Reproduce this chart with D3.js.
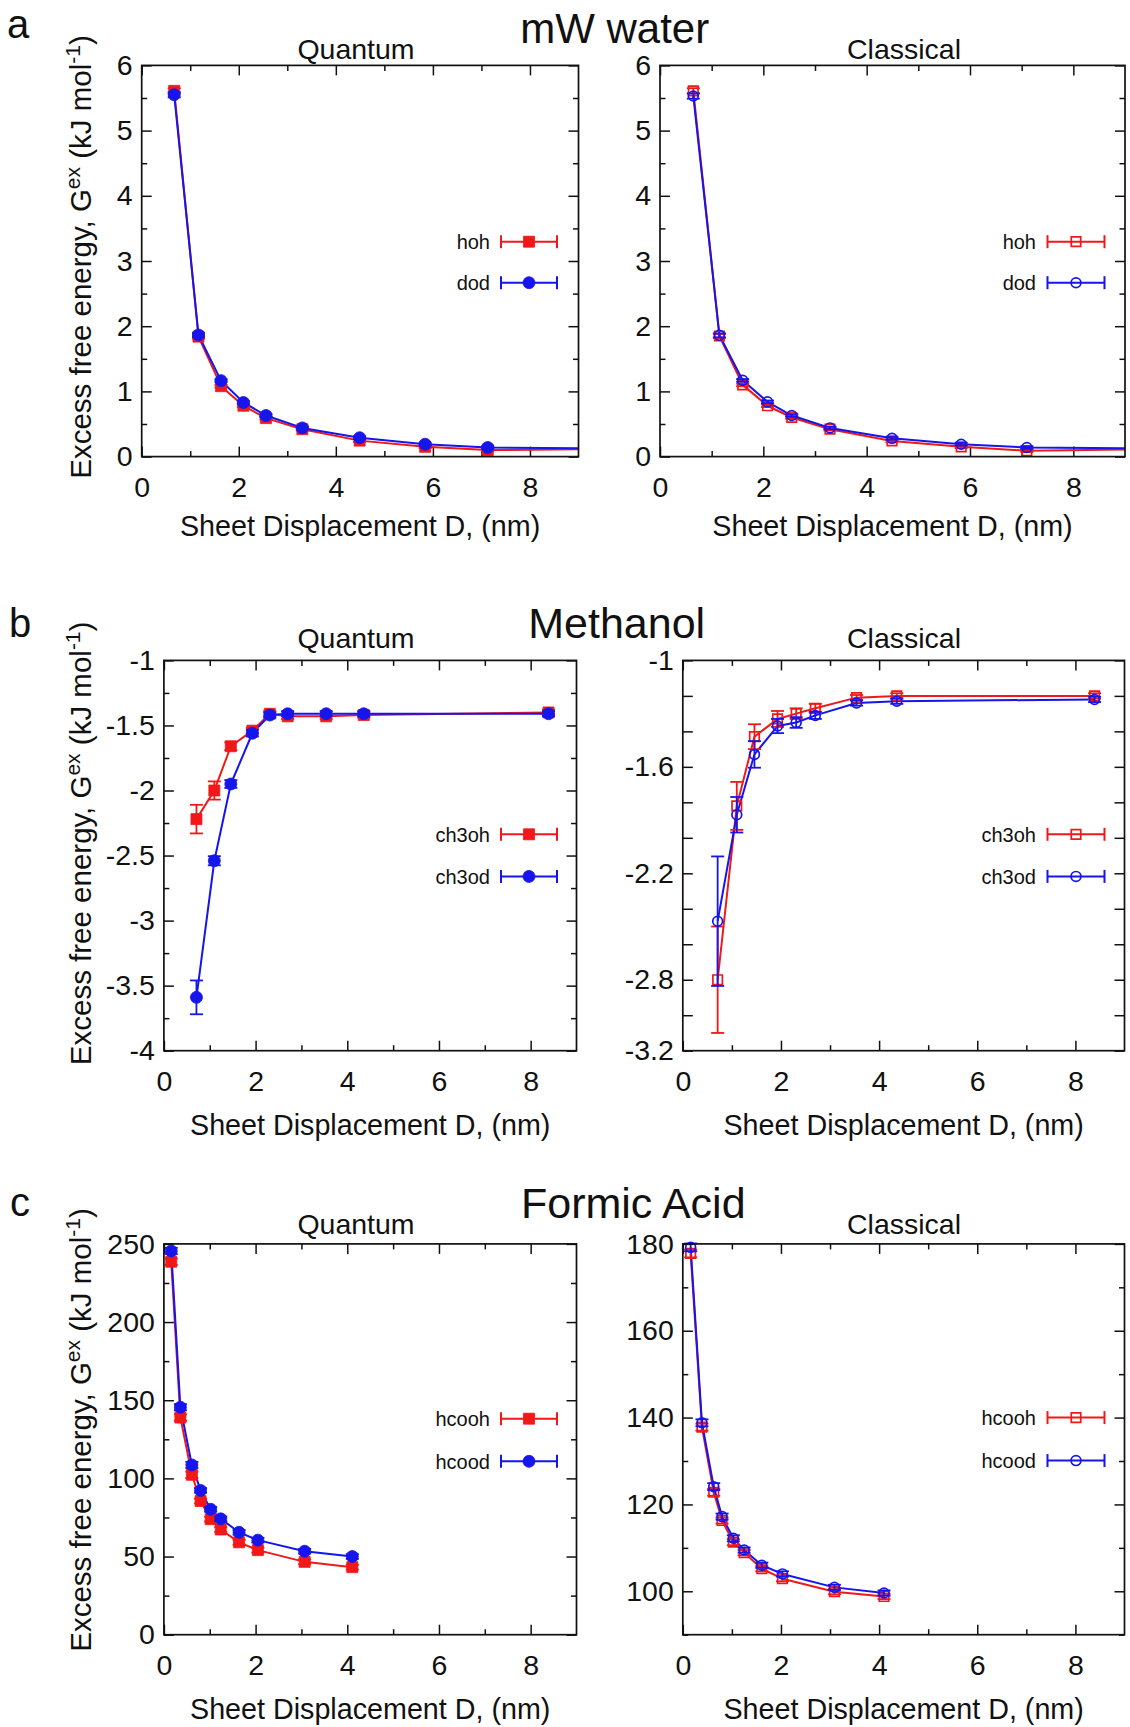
<!DOCTYPE html>
<html>
<head>
<meta charset="utf-8">
<script src="https://cdn.jsdelivr.net/npm/d3@7"></script>
<style>
  html, body { margin: 0; padding: 0; background: #fff; }
  svg { display: block; }
  text { font-family: "Liberation Sans", Arial, sans-serif; fill: #111; }
</style>
</head>
<body>
<script>
// ---------------- DATA ----------------
// Tick labels
const xTicks = [0, 2, 4, 6, 8];
const xMinorTicks = [1, 3, 5, 7];
const yTicksA = [0, 1, 2, 3, 4, 5, 6];
const yMinorA = [0.5, 1.5, 2.5, 3.5, 4.5, 5.5];
const yTicksBQ = [-4, -3.5, -3, -2.5, -2, -1.5, -1];
const yMinorBQ = [-3.75, -3.25, -2.75, -2.25, -1.75, -1.25];
const yTicksBC = [-3.2, -2.8, -2.2, -1.6, -1];
const yMinorBC = [-3.0, -2.6, -2.4, -2.0, -1.8, -1.4, -1.2];
const yTicksCQ = [0, 50, 100, 150, 200, 250];
const yMinorCQ = [25, 75, 125, 175, 225];
const yTicksCC = [100, 120, 140, 160, 180];
const yMinorCC = [90, 110, 130, 150, 170];

// (a) mW water
const xAQ = [0.67, 1.17, 1.635, 2.095, 2.56, 3.31, 4.49, 5.84, 7.13, 9.6];
const hohQ = [5.61, 1.84, 1.08, 0.78, 0.59, 0.42, 0.245, 0.15, 0.10, 0.115];
const hohQErr = [0.04, 0.03, 0.02, 0.02, 0.02, 0.02, 0.02, 0.02, 0.02, 0.02];
const dodQ = [5.55, 1.865, 1.165, 0.83, 0.63, 0.44, 0.29, 0.19, 0.14, 0.125];
const dodQErr = [0.04, 0.03, 0.02, 0.02, 0.02, 0.02, 0.02, 0.02, 0.02, 0.02];

const xAC = [0.645, 1.15, 1.6, 2.08, 2.55, 3.29, 4.49, 5.83, 7.1, 9.6];
const hohC = [5.61, 1.85, 1.10, 0.78, 0.60, 0.42, 0.24, 0.15, 0.09, 0.115];
const hohCErr = [0.04, 0.03, 0.02, 0.02, 0.02, 0.02, 0.02, 0.02, 0.02, 0.02];
const dodC = [5.53, 1.86, 1.17, 0.84, 0.63, 0.44, 0.28, 0.19, 0.14, 0.125];
const dodCErr = [0.04, 0.03, 0.02, 0.02, 0.02, 0.02, 0.02, 0.02, 0.02, 0.02];

// (b) Methanol
const xB = [0.71, 1.1, 1.46, 1.93, 2.31, 2.7, 3.54, 4.36, 8.39];
const ch3ohQ = [-2.22, -2.00, -1.66, -1.54, -1.41, -1.43, -1.43, -1.42, -1.40];
const ch3ohQErr = [0.11, 0.07, 0.03, 0.02, 0.02, 0.02, 0.02, 0.02, 0.02];
const ch3odQ = [-3.59, -2.54, -1.95, -1.56, -1.42, -1.41, -1.41, -1.41, -1.41];
const ch3odQErr = [0.13, 0.035, 0.03, 0.025, 0.02, 0.02, 0.02, 0.02, 0.02];

const ch3ohC = [-2.80, -1.82, -1.43, -1.33, -1.30, -1.27, -1.21, -1.20, -1.20];
const ch3ohCErr = [0.30, 0.135, 0.07, 0.045, 0.03, 0.025, 0.015, 0.015, 0.015];
const ch3odC = [-2.47, -1.87, -1.53, -1.37, -1.35, -1.31, -1.24, -1.23, -1.22];
const ch3odCErr = [0.365, 0.10, 0.075, 0.04, 0.03, 0.02, 0.015, 0.015, 0.015];

// (c) Formic acid
const xCQ = [0.16, 0.36, 0.61, 0.80, 1.02, 1.24, 1.64, 2.05, 3.07, 4.11];
const hcoohQ = [238.6, 138.9, 102.3, 85.5, 73.9, 67.3, 59.1, 54.1, 46.6, 43.2];
const hcoohQErr = [2, 2, 2, 1.5, 1.5, 1.5, 1.5, 1.5, 1.5, 1.5];
const hcoodQ = [245.5, 145.5, 108.6, 92.3, 80.2, 74.1, 65.5, 60.5, 53.4, 50.0];
const hcoodQErr = [2, 2, 2, 1.5, 1.5, 1.5, 1.5, 1.5, 1.5, 1.5];

const xCC = [0.16, 0.39, 0.63, 0.80, 1.03, 1.25, 1.61, 2.03, 3.09, 4.10];
const hcoohC = [177.8, 137.8, 122.8, 116.3, 111.3, 108.9, 105.2, 102.9, 99.9, 98.8];
const hcoohCErr = [0.9, 0.8, 0.8, 0.7, 0.7, 0.6, 0.6, 0.6, 0.6, 0.6];
const hcoodC = [179.2, 138.8, 124.1, 117.2, 112.2, 109.5, 106.0, 104.0, 100.9, 99.6];
const hcoodCErr = [0.9, 0.8, 0.8, 0.7, 0.7, 0.6, 0.6, 0.6, 0.6, 0.6];

// ---------------- STYLE / LAYOUT ----------------
const RED = "#f01818";
const BLUE = "#1515ec";
const W = 1130, H = 1727;

const svg = d3.select("body").append("svg").attr("width", W).attr("height", H);
svg.append("rect").attr("width", W).attr("height", H).attr("fill", "#fff");

function zip(xs, ys, es) { return xs.map((x, i) => ({ x, y: ys[i], e: es[i] })); }

const panels = [
  { id: "aQ", left: 141.7, right: 578.5, top: 65.4, bottom: 456.6, yDomain: [0, 6],
    yTicks: yTicksA, yMinor: yMinorA, title: "Quantum", titleX: 356, titleY: 59,
    xTitleY: 536, yTitle: { x: 90.6, y: 257 }, open: false,
    legend: { tr: 490, x0: 501, x1: 557, rows: [241.7, 282.7] },
    series: [ { name: "hoh", color: RED, shape: "square", data: zip(xAQ, hohQ, hohQErr) },
              { name: "dod", color: BLUE, shape: "circle", data: zip(xAQ, dodQ, dodQErr) } ] },
  { id: "aC", left: 660, right: 1125, top: 65.4, bottom: 456.6, yDomain: [0, 6],
    yTicks: yTicksA, yMinor: yMinorA, title: "Classical", titleX: 904, titleY: 59,
    xTitleY: 536, yTitle: null, open: true,
    legend: { tr: 1036, x0: 1047.5, x1: 1104.5, rows: [241.7, 282.7] },
    series: [ { name: "hoh", color: RED, shape: "square", data: zip(xAC, hohC, hohCErr) },
              { name: "dod", color: BLUE, shape: "circle", data: zip(xAC, dodC, dodCErr) } ] },
  { id: "bQ", left: 163.9, right: 576.5, top: 660.4, bottom: 1050.7, yDomain: [-4, -1],
    yTicks: yTicksBQ, yMinor: yMinorBQ, title: "Quantum", titleX: 356, titleY: 648,
    xTitleY: 1135, yTitle: { x: 90.6, y: 843.4 }, open: false,
    legend: { tr: 490, x0: 501, x1: 557, rows: [834.3, 876.4] },
    series: [ { name: "ch3oh", color: RED, shape: "square", data: zip(xB, ch3ohQ, ch3ohQErr) },
              { name: "ch3od", color: BLUE, shape: "circle", data: zip(xB, ch3odQ, ch3odQErr) } ] },
  { id: "bC", left: 682.8, right: 1124.5, top: 660.4, bottom: 1050.7, yDomain: [-3.2, -1],
    yTicks: yTicksBC, yMinor: yMinorBC, minorLen: 10, title: "Classical", titleX: 904, titleY: 648,
    xTitleY: 1135, yTitle: null, open: true,
    legend: { tr: 1036, x0: 1047.5, x1: 1104.5, rows: [834.3, 876.4] },
    series: [ { name: "ch3oh", color: RED, shape: "square", data: zip(xB, ch3ohC, ch3ohCErr) },
              { name: "ch3od", color: BLUE, shape: "circle", data: zip(xB, ch3odC, ch3odCErr) } ] },
  { id: "cQ", left: 163.9, right: 576.5, top: 1243.9, bottom: 1634.7, yDomain: [0, 250],
    yTicks: yTicksCQ, yMinor: yMinorCQ, title: "Quantum", titleX: 356, titleY: 1234,
    xTitleY: 1718.5, yTitle: { x: 90.6, y: 1430 }, open: false,
    legend: { tr: 490, x0: 501, x1: 557, rows: [1418.7, 1461.3] },
    series: [ { name: "hcooh", color: RED, shape: "square", data: zip(xCQ, hcoohQ, hcoohQErr) },
              { name: "hcood", color: BLUE, shape: "circle", data: zip(xCQ, hcoodQ, hcoodQErr) } ] },
  { id: "cC", left: 682.8, right: 1124.5, top: 1243.9, bottom: 1634.7, yDomain: [90, 180],
    yTicks: yTicksCC, yMinor: yMinorCC, title: "Classical", titleX: 904, titleY: 1234,
    xTitleY: 1718.5, yTitle: null, open: true,
    legend: { tr: 1036, x0: 1047.5, x1: 1104.5, rows: [1417.6, 1460.6] },
    series: [ { name: "hcooh", color: RED, shape: "square", data: zip(xCC, hcoohC, hcoohCErr) },
              { name: "hcood", color: BLUE, shape: "circle", data: zip(xCC, hcoodC, hcoodCErr) } ] }
];

const TICK_FONT = 28.5;
const MAJ = 10, MIN = 5.5;

function marker(sel, shape, open, color, cx, cy) {
  const size = open ? (shape === "square" ? 90 : Math.PI * 4.9 * 4.9)
                    : (shape === "square" ? 121 : Math.PI * 6 * 6);
  const sym = d3.symbol().type(shape === "square" ? d3.symbolSquare : d3.symbolCircle).size(size);
  sel.append("path")
    .attr("d", sym())
    .attr("transform", `translate(${cx},${cy})`)
    .attr("fill", open ? "none" : color)
    .attr("stroke", color)
    .attr("stroke-width", open ? 1.7 : 0.8);
}

function drawPanel(p) {
  const x = d3.scaleLinear().domain([0, 9]).range([p.left, p.right]);
  const y = d3.scaleLinear().domain(p.yDomain).range([p.bottom, p.top]);
  const g = svg.append("g").attr("class", "panel-" + p.id);

  svg.append("clipPath").attr("id", "clip-" + p.id)
    .append("rect").attr("x", p.left).attr("y", p.top)
    .attr("width", p.right - p.left).attr("height", p.bottom - p.top);

  const styleAxis = (ax) => {
    ax.select(".domain").remove();
    ax.selectAll(".tick line").attr("stroke", "#111").attr("stroke-width", 1.5);
    ax.selectAll(".tick text").attr("font-size", TICK_FONT).attr("fill", "#111")
      .attr("font-family", "Liberation Sans, Arial, sans-serif");
  };

  const bAx = g.append("g").attr("transform", `translate(0,${p.bottom})`)
    .call(d3.axisBottom(x).tickValues(xTicks).tickSizeInner(-MAJ).tickSizeOuter(0)
      .tickPadding(20.5).tickFormat(d3.format("d")));
  styleAxis(bAx);
  const bMin = g.append("g").attr("transform", `translate(0,${p.bottom})`)
    .call(d3.axisBottom(x).tickValues(xMinorTicks).tickSizeInner(-MIN).tickSizeOuter(0).tickFormat(""));
  styleAxis(bMin);
  const tAx = g.append("g").attr("transform", `translate(0,${p.top})`)
    .call(d3.axisTop(x).tickValues(xTicks).tickSizeInner(-MAJ).tickSizeOuter(0).tickFormat(""));
  styleAxis(tAx);
  const tMin = g.append("g").attr("transform", `translate(0,${p.top})`)
    .call(d3.axisTop(x).tickValues(xMinorTicks).tickSizeInner(-MIN).tickSizeOuter(0).tickFormat(""));
  styleAxis(tMin);

  const minorLen = p.minorLen || MIN;
  const lAx = g.append("g").attr("transform", `translate(${p.left},0)`)
    .call(d3.axisLeft(y).tickValues(p.yTicks).tickSizeInner(-MAJ).tickSizeOuter(0)
      .tickPadding(9).tickFormat(d3.format("~g")));
  styleAxis(lAx);
  lAx.selectAll(".tick text").text(d => d3.format("~g")(d).replace("\u2212", "-"));
  const lMin = g.append("g").attr("transform", `translate(${p.left},0)`)
    .call(d3.axisLeft(y).tickValues(p.yMinor).tickSizeInner(-minorLen).tickSizeOuter(0).tickFormat(""));
  styleAxis(lMin);
  const rAx = g.append("g").attr("transform", `translate(${p.right},0)`)
    .call(d3.axisRight(y).tickValues(p.yTicks).tickSizeInner(-MAJ).tickSizeOuter(0).tickFormat(""));
  styleAxis(rAx);
  const rMin = g.append("g").attr("transform", `translate(${p.right},0)`)
    .call(d3.axisRight(y).tickValues(p.yMinor).tickSizeInner(-minorLen).tickSizeOuter(0).tickFormat(""));
  styleAxis(rMin);

  const dataG = g.append("g");
  const lineG = dataG.append("g").attr("clip-path", `url(#clip-${p.id})`);
  const line = d3.line().x(d => x(d.x)).y(d => y(d.y));
  p.series.forEach(s => {
    lineG.append("path").datum(s.data).attr("d", line)
      .attr("fill", "none").attr("stroke", s.color).attr("stroke-width", 2)
      .attr("stroke-linejoin", "round");
    const inside = s.data.filter(d => d.x >= 0 && d.x <= 9);
    const eg = dataG.append("g");
    inside.forEach(d => {
      const cx = x(d.x), y1 = y(d.y - d.e), y2 = y(d.y + d.e), cw = 6.5;
      eg.append("line").attr("x1", cx).attr("x2", cx).attr("y1", y1).attr("y2", y2)
        .attr("stroke", s.color).attr("stroke-width", 1.8);
      [y1, y2].forEach(yy => eg.append("line").attr("x1", cx - cw).attr("x2", cx + cw)
        .attr("y1", yy).attr("y2", yy).attr("stroke", s.color).attr("stroke-width", 1.8));
      marker(eg, s.shape, p.open, s.color, cx, y(d.y));
    });
  });

  g.append("rect").attr("x", p.left).attr("y", p.top)
    .attr("width", p.right - p.left).attr("height", p.bottom - p.top)
    .attr("fill", "none").attr("stroke", "#111").attr("stroke-width", 1.7);

  p.series.forEach((s, i) => {
    const ry = p.legend.rows[i];
    g.append("text").attr("x", p.legend.tr).attr("y", ry).attr("dy", "0.36em")
      .attr("text-anchor", "end").attr("font-size", 20).text(s.name);
    const lg = g.append("g");
    lg.append("line").attr("x1", p.legend.x0).attr("x2", p.legend.x1).attr("y1", ry).attr("y2", ry)
      .attr("stroke", s.color).attr("stroke-width", 2);
    [p.legend.x0, p.legend.x1].forEach(xx => lg.append("line").attr("x1", xx).attr("x2", xx)
      .attr("y1", ry - 6.5).attr("y2", ry + 6.5).attr("stroke", s.color).attr("stroke-width", 2));
    marker(lg, s.shape, p.open, s.color, (p.legend.x0 + p.legend.x1) / 2, ry);
  });

  g.append("text").attr("x", p.titleX).attr("y", p.titleY).attr("text-anchor", "middle")
    .attr("font-size", 28.5).text(p.title);

  g.append("text").attr("x", (p.left + p.right) / 2).attr("y", p.xTitleY).attr("text-anchor", "middle")
    .attr("font-size", 28.7).text("Sheet Displacement D, (nm)");

  if (p.yTitle) {
    const t = g.append("text")
      .attr("transform", `translate(${p.yTitle.x},${p.yTitle.y}) rotate(-90)`)
      .attr("text-anchor", "middle").attr("font-size", 29.5);
    t.append("tspan").text("Excess free energy, G");
    t.append("tspan").attr("dy", -11).attr("font-size", 21).text("ex");
    t.append("tspan").attr("dy", 11).text(" (kJ mol");
    t.append("tspan").attr("dy", -11).attr("font-size", 21).text("-1");
    t.append("tspan").attr("dy", 11).text(")");
  }
}

panels.forEach(drawPanel);

const headings = [
  { text: "mW water", x: 614.7, y: 42.7, size: 42 },
  { text: "Methanol", x: 616.7, y: 637.7, size: 43 },
  { text: "Formic Acid", x: 633.3, y: 1217.7, size: 43 }
];
headings.forEach(h => svg.append("text").attr("x", h.x).attr("y", h.y)
  .attr("text-anchor", "middle").attr("font-size", h.size).text(h.text));

const letters = [
  { text: "a", x: 7, y: 37.5 },
  { text: "b", x: 9, y: 637 },
  { text: "c", x: 10, y: 1216 }
];
letters.forEach(l => svg.append("text").attr("x", l.x).attr("y", l.y)
  .attr("font-family", "'DejaVu Sans', sans-serif").attr("font-size", 40).text(l.text));
</script>
</body>
</html>
